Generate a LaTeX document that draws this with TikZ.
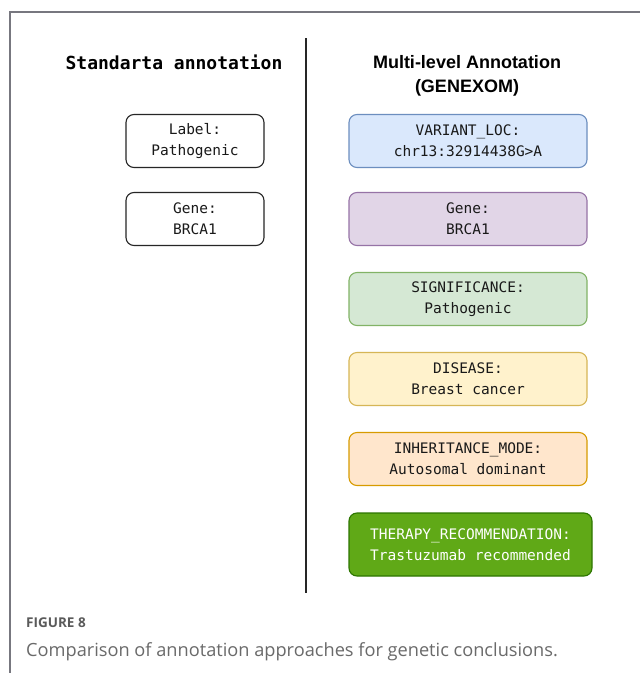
\documentclass[tikz,border=0pt]{standalone}
\usepackage{fontspec}
\setmainfont{Liberation Sans}
\newfontfamily\monofont{DejaVu Sans Mono}
\newfontfamily\capfont{Open Sans}
\definecolor{framegray}{HTML}{77777F}
\definecolor{blueF}{HTML}{DAE8FC}\definecolor{blueD}{HTML}{6C8EBF}
\definecolor{purpF}{HTML}{E1D5E7}\definecolor{purpD}{HTML}{9673A6}
\definecolor{grnF}{HTML}{D5E8D4}\definecolor{grnD}{HTML}{82B366}
\definecolor{yelF}{HTML}{FFF2CC}\definecolor{yelD}{HTML}{D6B656}
\definecolor{orF}{HTML}{FFE6CC}\definecolor{orD}{HTML}{D79B00}
\definecolor{thF}{HTML}{60A917}\definecolor{thD}{HTML}{2D7600}
\definecolor{capgray}{HTML}{5A5A5A}
\definecolor{capgray2}{HTML}{6A6A6A}
\tikzset{
  annbox/.style={rectangle, rounded corners=8pt, line width=1.1pt, align=center,
    minimum height=53pt, inner sep=0pt,
    font=\monofont\fontsize{14.5}{21}\selectfont, text=black!90},
  leftbox/.style={annbox, draw=black!85, fill=white, minimum width=138pt},
  rightbox/.style={annbox, minimum width=238pt},
}
\begin{document}
\begin{tikzpicture}[x=1pt,y=-1pt]
\useasboundingbox (0,0) rectangle (640,673);
\fill[white] (0,0) rectangle (640,673);
% frame
\draw[framegray, line width=1.2pt] (10,673) -- (10,12) -- (640,12);
% divider
\coordinate (dtop) at (306,38);
\coordinate (dbot) at (306,593);
\draw[black!85, line width=1.2pt] (dtop) -- (dbot);
% titles
\node[font=\monofont\bfseries\fontsize{18}{22}\selectfont] (ltitle) at (174,62) {Standarta annotation};
\node[font=\bfseries\fontsize{18}{24}\selectfont, align=center] (rtitle) at (467,76) {Multi-level Annotation\\(GENEXOM)};
% left boxes
\node[leftbox] (l1) at (195,141) {Label:\\Pathogenic};
\node[leftbox] (l2) at (195,219) {Gene:\\BRCA1};
% right boxes
\node[rightbox, draw=blueD, fill=blueF] (r1) at (468,141) {VARIANT\_LOC:\\chr13:32914438G>A};
\node[rightbox, draw=purpD, fill=purpF] (r2) at (468,219) {Gene:\\BRCA1};
\node[rightbox, draw=grnD, fill=grnF] (r3) at (468,299) {SIGNIFICANCE:\\Pathogenic};
\node[rightbox, draw=yelD, fill=yelF] (r4) at (468,379) {DISEASE:\\Breast cancer};
\node[rightbox, draw=orD, fill=orF] (r5) at (468,459) {INHERITANCE\_MODE:\\Autosomal dominant};
\node[rightbox, draw=thD, fill=thF, text=white, minimum width=243pt, minimum height=63pt] (r6) at (470.5,544.5) {THERAPY\_RECOMMENDATION:\\Trastuzumab recommended};
% caption
\node[anchor=west, inner sep=0pt, font=\capfont\bfseries\fontsize{13.5}{15}\selectfont, text=capgray] (fig) at (26,623) {FIGURE 8};
\node[anchor=west, inner sep=0pt, font=\capfont\fontsize{18.2}{22}\selectfont, text=capgray2] (cap) at (26,652) {Comparison of annotation approaches for genetic conclusions.};
\end{tikzpicture}
\end{document}
